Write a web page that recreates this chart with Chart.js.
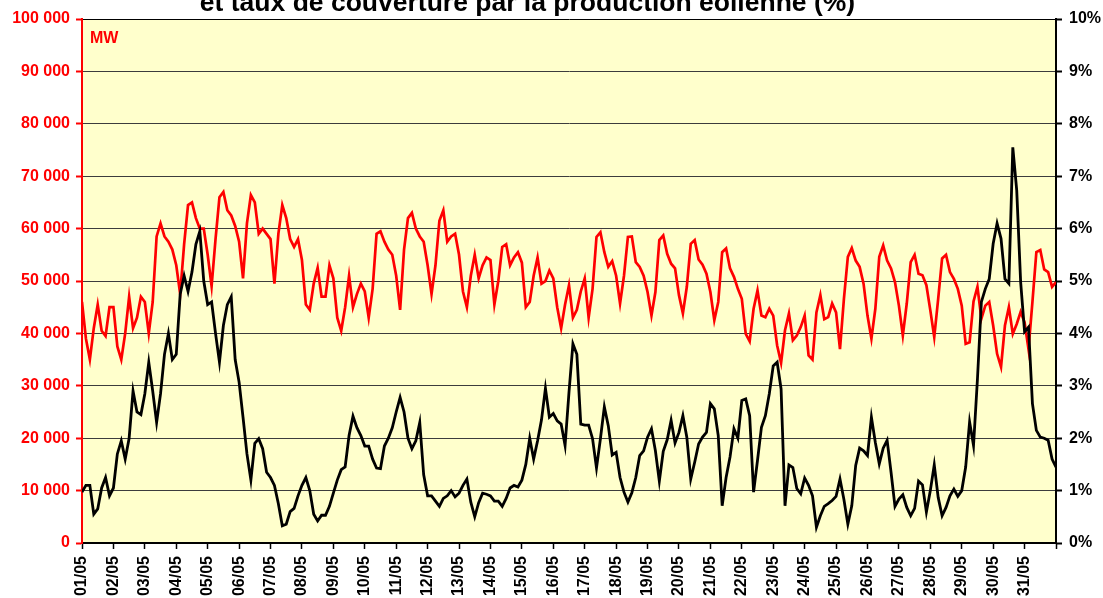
<!DOCTYPE html>
<html>
<head>
<meta charset="utf-8">
<script src="https://cdn.jsdelivr.net/npm/chart.js@4.4.1/dist/chart.umd.min.js"></script>
<style>
html,body{margin:0;padding:0;background:#fff;overflow:hidden}
canvas{display:block}
</style>
</head>
<body>
<canvas id="c" width="1103" height="598"></canvas>
<script>
// ---- DATA ----
const titleText = 'et taux de couverture par la production éolienne (%)';
const unitLabel = 'MW';
const dayLabels = ['01/05','02/05','03/05','04/05','05/05','06/05','07/05','08/05','09/05','10/05',
  '11/05','12/05','13/05','14/05','15/05','16/05','17/05','18/05','19/05','20/05',
  '21/05','22/05','23/05','24/05','25/05','26/05','27/05','28/05','29/05','30/05','31/05'];
const mwTickLabels = ['0','10 000','20 000','30 000','40 000','50 000','60 000','70 000','80 000','90 000','100 000'];
const pctTickLabels = ['0%','1%','2%','3%','4%','5%','6%','7%','8%','9%','10%'];
const samplesPerDay = 8; // one reading every 3 hours

// Consommation (MW), left axis
const consumptionMW = [
  46000,39000,35000,41000,45500,40500,39500,45000,
  45000,37500,35000,40000,47000,41000,43000,47000,
  46000,40000,46000,58500,61000,58500,57500,56000,
  53000,47500,57000,64500,65000,62000,60000,60000,
  55000,49000,58000,66000,67000,63500,62500,60500,
  57500,50500,61000,66400,65000,59000,60000,59000,
  58000,49500,59000,64500,62000,58000,56500,58000,
  54000,45500,44500,49500,52500,47000,47000,53000,
  50500,43000,40500,45000,51000,45000,47500,49500,
  48000,43000,48500,59000,59500,57500,56000,55000,
  51000,44500,56000,62000,63000,60000,58500,57500,
  53000,47500,53000,61500,63500,57500,58500,59000,
  55000,48000,45000,51000,55000,50500,53000,54500,
  54000,45500,50000,56500,57000,53000,54500,55500,
  53500,45000,46000,51000,54500,49500,50000,52000,
  50500,45000,41000,45500,49200,43000,44500,48000,
  50500,43000,48500,58400,59300,55500,52700,53800,
  51000,45700,51000,58400,58500,53600,52700,51000,
  47900,43400,47900,57800,58700,55200,53300,52400,
  47300,43800,48900,57100,57800,54100,53100,51400,
  47900,42500,46000,55500,56200,52400,50800,48500,
  46600,39900,38500,44700,48200,43400,43100,44700,
  43400,37700,34400,40600,43800,38700,39600,41200,
  43400,35800,35000,44000,47300,42700,43100,45700,
  44000,37000,46600,54600,56300,53900,52700,49500,
  43400,39000,44700,54600,56800,53900,52400,49800,
  45300,39600,45700,53600,55000,51400,51100,49200,
  44400,39300,46600,54300,55000,51700,50400,48500,
  45300,38000,38300,46100,48900,42800,45300,46000,
  41500,36100,33600,41500,45000,39900,41800,44100,
  42100,37000,46000,55500,55900,52200,51700,48900,
  49800
];

// Taux de couverture par l'éolien (%), right axis
const windCoveragePct = [
  0.97,1.10,1.10,0.55,0.65,1.05,1.25,0.90,
  1.05,1.70,1.95,1.60,2.00,2.90,2.50,2.45,
  2.85,3.45,2.90,2.30,2.85,3.60,4.00,3.50,
  3.60,4.75,5.10,4.80,5.17,5.70,5.95,5.00,
  4.55,4.60,4.00,3.45,4.15,4.55,4.70,3.50,
  3.07,2.40,1.70,1.20,1.90,1.99,1.80,1.35,
  1.25,1.10,0.75,0.33,0.36,0.60,0.66,0.90,
  1.10,1.25,1.00,0.55,0.42,0.53,0.53,0.70,
  0.95,1.20,1.40,1.45,2.05,2.42,2.20,2.05,
  1.85,1.85,1.60,1.43,1.42,1.85,2.00,2.20,
  2.50,2.78,2.50,2.00,1.80,1.95,2.30,1.30,
  0.90,0.90,0.80,0.70,0.85,0.90,1.00,0.88,
  0.95,1.10,1.22,0.78,0.50,0.77,0.95,0.93,
  0.90,0.80,0.80,0.70,0.85,1.05,1.10,1.07,
  1.20,1.50,2.00,1.60,1.95,2.35,2.95,2.40,
  2.47,2.33,2.27,1.86,2.88,3.80,3.60,2.27,
  2.25,2.25,1.99,1.43,1.99,2.60,2.24,1.68,
  1.73,1.25,0.97,0.78,0.96,1.25,1.67,1.76,
  2.02,2.18,1.76,1.18,1.75,1.97,2.34,1.91,
  2.11,2.43,2.02,1.22,1.54,1.89,2.02,2.11,
  2.66,2.56,2.05,0.71,1.25,1.64,2.18,2.00,
  2.72,2.75,2.43,0.97,1.58,2.21,2.43,2.85,
  3.38,3.45,2.94,0.71,1.49,1.44,1.04,0.94,
  1.24,1.10,0.90,0.30,0.52,0.70,0.75,0.81,
  0.89,1.22,0.83,0.36,0.71,1.48,1.81,1.76,
  1.67,2.40,1.92,1.51,1.81,1.96,1.35,0.70,
  0.84,0.92,0.68,0.52,0.66,1.18,1.11,0.59,
  1.00,1.49,0.87,0.52,0.68,0.90,1.03,0.89,
  1.00,1.45,2.31,1.86,3.13,4.60,4.85,5.04,
  5.71,6.10,5.81,5.04,4.95,7.55,6.73,4.98,
  4.03,4.12,2.66,2.15,2.02,2.00,1.96,1.60,
  1.45
];

// ---- CHART ----
const FONT = 'Liberation Sans, Arial, Helvetica, sans-serif';
const toPoints = arr => arr.map((v, i) => ({ x: i / samplesPerDay, y: v }));

const bgPlugin = {
  id: 'bg',
  beforeDraw(chart) {
    const { ctx, chartArea: a } = chart;
    ctx.save();
    ctx.fillStyle = '#ffffff';
    ctx.fillRect(0, 0, chart.width, chart.height);
    ctx.fillStyle = '#FFFFCC';
    ctx.fillRect(a.left, a.top, a.right - a.left, a.bottom - a.top);
    ctx.restore();
  },
  afterDraw(chart) {
    const { ctx, chartArea: a } = chart;
    ctx.save();
    ctx.fillStyle = '#000';
    ctx.font = 'bold 26.5px ' + FONT;
    ctx.textAlign = 'center';
    ctx.textBaseline = 'alphabetic';
    ctx.fillText(titleText, 527.5, 11);
    ctx.fillStyle = '#FF0000';
    ctx.font = 'bold 16px ' + FONT;
    ctx.textAlign = 'left';
    ctx.fillText(unitLabel, a.left + 8, a.top + 24);
    ctx.restore();
  }
};

new Chart(document.getElementById('c'), {
  type: 'line',
  data: {
    datasets: [
      {
        label: 'Taux de couverture',
        data: toPoints(windCoveragePct),
        yAxisID: 'yR',
        borderColor: '#000000',
        borderWidth: 2.8,
        pointRadius: 0,
        tension: 0,
        order: 0
      },
      {
        label: 'Consommation',
        data: toPoints(consumptionMW),
        yAxisID: 'yL',
        borderColor: '#FF0000',
        borderWidth: 2.7,
        pointRadius: 0,
        tension: 0,
        order: 1
      }
    ]
  },
  options: {
    responsive: false,
    animation: false,
    devicePixelRatio: 1,
    layout: { padding: { top: 19, left: 0, right: 0, bottom: 0 } },
    plugins: { legend: { display: false }, tooltip: { enabled: false }, title: { display: false } },
    scales: {
      x: {
        type: 'linear',
        min: 0,
        max: dayLabels.length,
        afterFit: s => { s.height = 55; },
        border: { display: true, color: '#000', width: 2 },
        grid: { drawOnChartArea: false, drawTicks: true, tickLength: 6, tickColor: '#000', tickWidth: 1.5 },
        ticks: {
          stepSize: 1,
          autoSkip: false,
          minRotation: 90,
          maxRotation: 90,
          padding: 7,
          color: '#000',
          font: { family: FONT, size: 16, weight: 'bold' },
          callback: v => dayLabels[Math.round(v)] ?? ''
        }
      },
      yL: {
        position: 'left',
        min: 0,
        max: 100000,
        afterFit: s => { s.width = 82; },
        border: { display: true, color: '#FF0000', width: 2 },
        grid: {
          drawOnChartArea: true,
          color: c => (c.tick && c.tick.value === 100000) ? '#000' : '#3c3c3c',
          lineWidth: 1,
          tickColor: '#FF0000',
          tickLength: 6,
          tickWidth: 2
        },
        ticks: {
          stepSize: 10000,
          padding: 6,
          color: '#FF0000',
          font: { family: FONT, size: 16, weight: 'bold' },
          callback: v => mwTickLabels[Math.round(v / 10000)]
        }
      },
      yR: {
        position: 'right',
        min: 0,
        max: 10,
        afterFit: s => { s.width = 47; },
        border: { display: true, color: '#000', width: 2 },
        grid: { drawOnChartArea: false, tickColor: '#000', tickLength: 6, tickWidth: 2 },
        ticks: {
          stepSize: 1,
          padding: 7,
          color: '#000',
          font: { family: FONT, size: 16, weight: 'bold' },
          callback: v => pctTickLabels[Math.round(v)]
        }
      }
    }
  },
  plugins: [bgPlugin]
});
</script>
</body>
</html>
